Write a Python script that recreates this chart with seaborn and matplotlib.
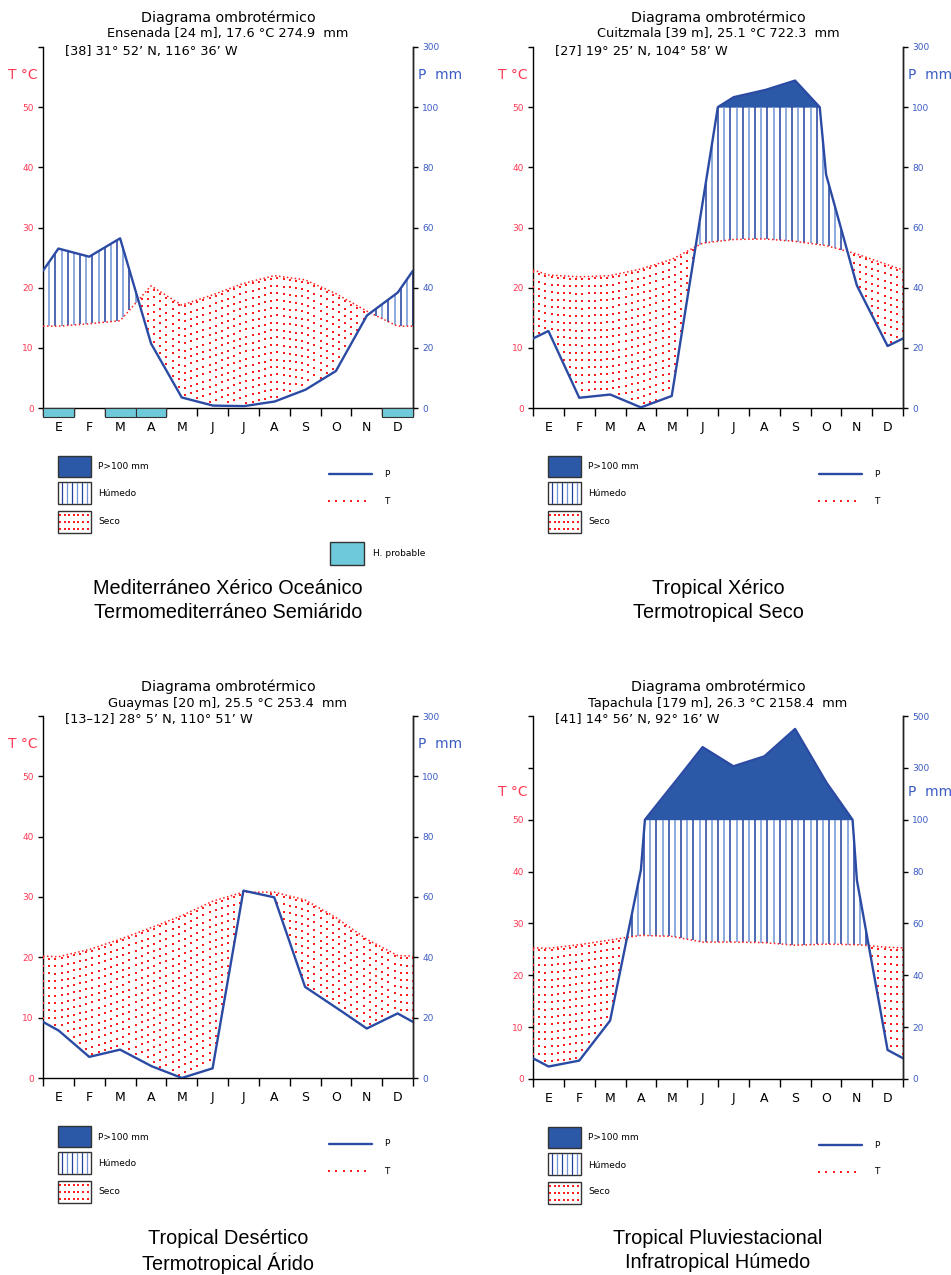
import numpy as np
import matplotlib
matplotlib.use("Agg")
import matplotlib.pyplot as plt
import matplotlib.transforms as mtransforms
from matplotlib.patches import Rectangle
from matplotlib.collections import LineCollection
from matplotlib.lines import Line2D
import seaborn as sns

# ---------------- data ----------------
months = ['E', 'F', 'M', 'A', 'M', 'J', 'J', 'A', 'S', 'O', 'N', 'D']

ens_P = [53.0, 50.3, 56.4, 21.5, 3.5, 0.8, 0.6, 2.1, 6.0, 12.3, 30.7, 38.3]
ens_T = [13.6, 14.0, 14.5, 20.3, 17.1, 18.8, 20.7, 22.0, 21.3, 19.0, 16.1, 13.6]
ens_frost = [1, 0, 1, 1, 0, 0, 0, 0, 0, 0, 0, 1]

cui_P = [25.6, 3.4, 4.5, 0.2, 4.0, 68.0, 133.0, 156.0, 188.4, 77.8, 40.8, 20.6]
cui_T = [22.1, 21.8, 22.0, 23.1, 24.7, 27.4, 28.0, 28.1, 27.7, 27.0, 25.6, 23.8]

gua_P = [15.8, 7.0, 9.4, 4.0, 0.0, 3.2, 62.1, 59.9, 30.2, 23.4, 16.4, 21.4]
gua_T = [20.1, 21.3, 23.0, 24.9, 26.9, 29.3, 30.8, 30.8, 29.5, 26.6, 23.0, 20.3]

tap_P = [4.8, 7.1, 22.5, 80.7, 229.0, 380.0, 306.0, 344.0, 450.0, 246.0, 77.0, 11.2]
tap_T = [25.2, 25.9, 26.8, 27.7, 27.5, 26.4, 26.4, 26.3, 25.8, 26.0, 25.9, 25.4]

t_tick_labels = ['0', '10', '20', '30', '40', '50']
p_tick_labels_60 = ['0', '20', '40', '60', '80', '100', '300']
p_tick_labels_70 = ['0', '20', '40', '60', '80', '100', '300', '500']

headers = [
    ("Ensenada [24 m], 17.6 °C 274.9  mm", "[38] 31° 52’ N, 116° 36’ W"),
    ("Cuitzmala [39 m], 25.1 °C 722.3  mm", "[27] 19° 25’ N, 104° 58’ W"),
    ("Guaymas [20 m], 25.5 °C 253.4  mm", "[13–12] 28° 5’ N, 110° 51’ W"),
    ("Tapachula [179 m], 26.3 °C 2158.4  mm", "[41] 14° 56’ N, 92° 16’ W"),
]
captions = [
    "Mediterráneo Xérico Oceánico\nTermomediterráneo Semiárido",
    "Tropical Xérico\nTermotropical Seco",
    "Tropical Desértico\nTermotropical Árido",
    "Tropical Pluviestacional\nInfratropical Húmedo",
]
legend_labels = ["P>100 mm", "Húmedo", "Seco", "P", "T", "H. probable"]

# ---------------- style ----------------
sns.set_theme(style="white")
plt.rcParams['font.family'] = ['DejaVu Sans']
plt.rcParams['text.color'] = 'black'

W, H = 951, 1275
fig = plt.figure(figsize=(W / 100, H / 100), dpi=100)

C_PFILL = "#2c59a7"
C_PLINE = "#2a4aa3"
C_HDARK = "#21409c"
C_HLIGHT = "#6f93d6"
C_RED = "#ff1f1f"
C_TLAB = "#ff3a55"
C_PLAB = "#3c5cc4"
C_FROST = "#6ecada"


def fx(px):
    return px / W


def fy(py):
    return 1 - py / H


def draw_panel(P, T, ymax, L, top, B, header, caption, cap_y, frost=None):
    axh = B - top
    ax = fig.add_axes([fx(L), fy(B), 370 / W, axh / H])
    ppu = axh / ymax
    P = np.asarray(P, float)
    T = np.asarray(T, float)
    xs = np.concatenate([[0.0], np.arange(12) + 0.5, [12.0]])
    Pe = np.concatenate([[(P[0] + P[-1]) / 2], P, [(P[0] + P[-1]) / 2]])
    Te = np.concatenate([[(T[0] + T[-1]) / 2], T, [(T[0] + T[-1]) / 2]])
    xf = np.linspace(0, 12, 2401)
    Pf = np.interp(xf, xs, Pe)
    Pc = np.where(Pf <= 100, Pf / 2, 50 + (Pf - 100) / 20)

    # P > 100 mm area
    ax.fill_between(xf, 50, np.maximum(Pc, 50), color=C_PFILL, lw=0, zorder=1)

    # humid hatch and dry dots
    xh = np.round(np.arange(0, 12.0001, 0.2), 6)
    Ph = np.interp(xh, xs, Pe)
    Th = np.interp(xh, xs, Te)
    segs, cols = [], []
    for k, (x, p, t) in enumerate(zip(xh, Ph / 2, Th)):
        if p > t:
            segs.append([(x, t), (x, min(p, 50))])
            cols.append(C_HDARK if k % 2 == 0 else C_HLIGHT)
    if segs:
        ax.add_collection(LineCollection(segs, colors=cols, linewidths=1.1, zorder=2))
    step = 7.4 / ppu
    dx, dy = [], []
    for x, p, t in zip(xh, Ph / 2, Th):
        if t > p:
            y = t - 0.3 * step
            while y > p + 0.25 * step:
                dx.append(x)
                dy.append(y)
                y -= step
    ax.scatter(dx, dy, s=3.8, marker='s', color=C_RED, linewidths=0, zorder=3)

    # lines
    sns.lineplot(x=xs, y=Te, ax=ax, color=C_RED, lw=1.1, linestyle=(0, (1, 1.6)), zorder=4)
    sns.lineplot(x=xf, y=Pc, ax=ax, color=C_PLINE, lw=1.7, zorder=5)

    ax.set_xlim(0, 12)
    ax.set_ylim(0, ymax)
    ax.set_xlabel('')
    ax.set_ylabel('')
    ax.spines['top'].set_visible(False)
    for s in ['left', 'right', 'bottom']:
        ax.spines[s].set_color('black')
        ax.spines[s].set_linewidth(1.0)

    ax.set_xticks(range(13))
    ax.set_xticklabels([])
    ax.set_xticks(np.arange(12) + 0.5, minor=True)
    ax.set_xticklabels(months, minor=True)
    ax.tick_params(axis='x', which='major', bottom=True, length=5.8, width=1.0,
                   direction='out', color='black')
    ax.tick_params(axis='x', which='minor', bottom=True, length=0, pad=9.5,
                   labelsize=9, labelcolor='black')

    yt = list(range(0, ymax + 1, 10))
    ax.set_yticks(yt)
    ax.set_yticklabels(t_tick_labels + [''] * (len(yt) - 6))
    ax.tick_params(axis='y', left=True, length=3.6, width=1.0, direction='out',
                   color='black', labelsize=6.5, labelcolor=C_TLAB, pad=3)

    ax2 = ax.twinx()
    ax2.set_ylim(0, ymax)
    ax2.set_yticks(yt)
    ax2.set_yticklabels(p_tick_labels_70 if ymax == 70 else p_tick_labels_60)
    ax2.tick_params(axis='y', right=True, length=3.6, width=1.0, direction='out',
                    color='black', labelsize=6.5, labelcolor=C_PLAB, pad=3)
    for s in ['top', 'left', 'bottom']:
        ax2.spines[s].set_visible(False)
    ax2.spines['right'].set_color('#222222')
    ax2.spines['right'].set_linewidth(1.0)
    ax2.grid(False)
    ax.grid(False)

    # frost months
    if frost is not None:
        trans = mtransforms.blended_transform_factory(ax.transData, ax.transAxes)
        hh = 9 / axh
        for i, f in enumerate(frost):
            if f:
                ax.add_patch(Rectangle((i, -hh), 1, hh, transform=trans, facecolor=C_FROST,
                                       edgecolor='#333333', lw=0.8, clip_on=False, zorder=6))

    # axis labels
    ylab = fy(B - 55.3 * ppu)
    fig.text(fx(L - 5), ylab, "T °C", color=C_TLAB, fontsize=10, ha='right', va='center')
    fig.text(fx(L + 375), ylab, "P  mm", color=C_PLAB, fontsize=10, ha='left', va='center')

    # header
    cx = L + 185
    fig.text(fx(cx), fy(top - 29), "Diagrama ombrotérmico", fontsize=10.3, ha='center',
             va='center', color='black')
    fig.text(fx(cx), fy(top - 13), header[0], fontsize=9.3, ha='center', va='center',
             color='black')
    fig.text(fx(L + 22), fy(top + 4), header[1], fontsize=9.3, ha='left', va='center',
             color='black')

    # legend
    def box(y0, y1):
        r = Rectangle((fx(L + 15), fy(y1)), 33 / W, (y1 - y0) / H, transform=fig.transFigure,
                      facecolor='white', edgecolor='#333333', lw=1.0)
        fig.add_artist(r)

    y0 = B + 48
    fig.add_artist(Rectangle((fx(L + 15), fy(y0 + 21)), 33 / W, 21 / H, transform=fig.transFigure,
                             facecolor=C_PFILL, edgecolor='#333333', lw=1.0))
    y0 = B + 74
    box(y0, y0 + 22)
    for k, xx in enumerate(np.arange(L + 19, L + 47, 5)):
        fig.add_artist(Line2D([fx(xx), fx(xx)], [fy(y0 + 1), fy(y0 + 21)], transform=fig.transFigure,
                              color=C_HDARK if k % 2 == 0 else C_HLIGHT, lw=0.9))
    y0 = B + 103
    box(y0, y0 + 22)
    for ry in (y0 + 4, y0 + 11, y0 + 18):
        for xx in np.arange(L + 17, L + 48, 4.6):
            fig.add_artist(Line2D([fx(xx)], [fy(ry)], transform=fig.transFigure, marker='s',
                                  markersize=1.5, markeredgewidth=0, color=C_RED, linestyle='none'))
    fig.text(fx(L + 55), fy(B + 59), legend_labels[0], fontsize=6.5, va='center', ha='left')
    fig.text(fx(L + 55), fy(B + 86), legend_labels[1], fontsize=6.5, va='center', ha='left')
    fig.text(fx(L + 55), fy(B + 113), legend_labels[2], fontsize=6.5, va='center', ha='left')
    fig.add_artist(Line2D([fx(L + 286), fx(L + 329)], [fy(B + 66)] * 2, transform=fig.transFigure,
                          color=C_PLINE, lw=1.7))
    fig.add_artist(Line2D(np.arange(fx(L + 286), fx(L + 326), 7.3 / W), [fy(B + 93)] * 6,
                          transform=fig.transFigure, marker='s', markersize=1.6,
                          markeredgewidth=0, color=C_RED, linestyle='none'))
    fig.text(fx(L + 344), fy(B + 66), legend_labels[3], fontsize=6.5, va='center', ha='center')
    fig.text(fx(L + 344), fy(B + 93), legend_labels[4], fontsize=6.5, va='center', ha='center')
    if frost is not None:
        fig.add_artist(Rectangle((fx(L + 287), fy(B + 157)), 34 / W, 23 / H,
                                 transform=fig.transFigure, facecolor=C_FROST,
                                 edgecolor='#333333', lw=1.0))
        fig.text(fx(L + 330), fy(B + 145), legend_labels[5], fontsize=6.5, va='center', ha='left')

    # caption
    l1, l2 = caption.split('\n')
    fig.text(fx(cx), fy(cap_y), l1, fontsize=14.3, family='Liberation Sans', ha='center',
             va='center', color='black')
    fig.text(fx(cx), fy(cap_y + 25), l2, fontsize=14.3, family='Liberation Sans', ha='center',
             va='center', color='black')


draw_panel(ens_P, ens_T, 60, 43, 47, 408, headers[0], captions[0], 588, frost=ens_frost)
draw_panel(cui_P, cui_T, 60, 533, 47, 408, headers[1], captions[1], 588)
draw_panel(gua_P, gua_T, 60, 43, 716, 1078, headers[2], captions[2], 1238)
draw_panel(tap_P, tap_T, 70, 533, 716, 1079, headers[3], captions[3], 1238)

fig.savefig("out.png", dpi=100, facecolor='white')
